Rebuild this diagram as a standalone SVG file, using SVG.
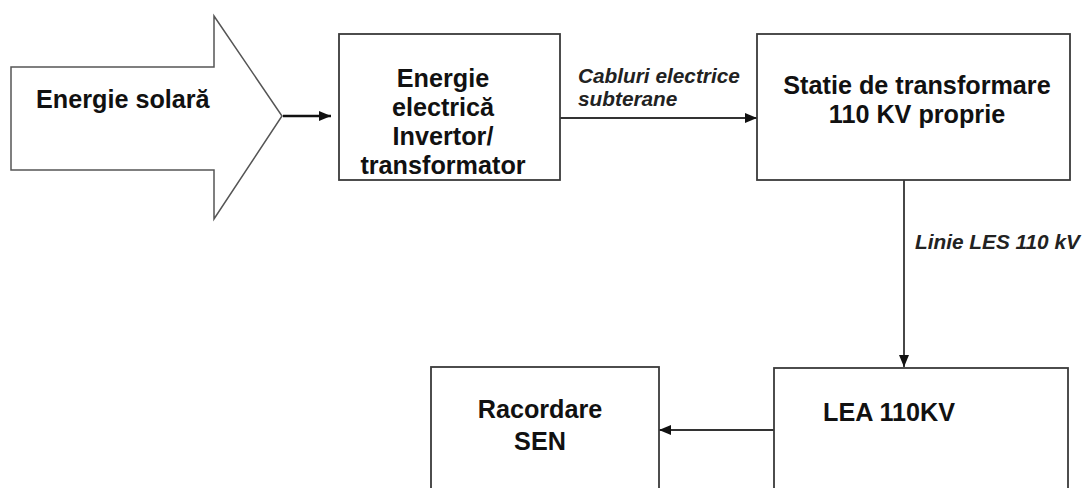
<svg xmlns="http://www.w3.org/2000/svg" width="1082" height="488" viewBox="0 0 1082 488">
<defs>
<style>
.box{fill:#fff;stroke:#3a3a3a;stroke-width:1.8}
.t{font-family:"Liberation Sans",Arial,sans-serif;font-weight:bold;font-size:25.2px;fill:#111}
.lbl{font-family:"Liberation Sans",Arial,sans-serif;font-weight:bold;font-style:italic;font-size:20.8px;fill:#222}
.ln{stroke:#333;stroke-width:1.8;fill:none}
</style>
<marker id="ah" viewBox="0 0 12 10" refX="12" refY="5" markerWidth="12" markerHeight="10" markerUnits="userSpaceOnUse" orient="auto">
<path d="M0,0 L12,5 L0,10 z" fill="#111"/>
</marker>
</defs>
<rect width="1082" height="488" fill="#fff"/>
<g id="connectors">
<line x1="283" y1="116" x2="331" y2="116" stroke="#111" stroke-width="2.6" marker-end="url(#ah)"/>
<line class="ln" x1="560" y1="118" x2="757" y2="118" marker-end="url(#ah)"/>
<text class="lbl" x="578" y="83">Cabluri electrice</text>
<text class="lbl" x="578" y="106">subterane</text>
<line class="ln" x1="904" y1="180" x2="904" y2="367" marker-end="url(#ah)"/>
<text class="lbl" x="915" y="249">Linie LES 110 kV</text>
<line class="ln" x1="774" y1="430" x2="659" y2="430" marker-end="url(#ah)"/>
</g>
<g id="solar">
<path d="M11,67 L214,67 L214,16 L282,116 L214,219 L214,170 L11,170 Z" fill="#fff" stroke="#555" stroke-width="1.5"/>
<text class="t" x="36" y="108">Energie solară</text>
</g>
<g id="invertor">
<rect class="box" x="339" y="34" width="221" height="146"/>
<text class="t" text-anchor="middle" x="443" y="87">Energie</text>
<text class="t" text-anchor="middle" x="443" y="116">electrică</text>
<text class="t" text-anchor="middle" x="443" y="145">Invertor/</text>
<text class="t" text-anchor="middle" x="443" y="174">transformator</text>
</g>
<g id="statie">
<rect class="box" x="757" y="34" width="313" height="146"/>
<text class="t" text-anchor="middle" x="917" y="94">Statie de transformare</text>
<text class="t" text-anchor="middle" x="917" y="123">110 KV proprie</text>
</g>
<g id="lea">
<rect class="box" x="774" y="368" width="294" height="140"/>
<text class="t" x="823" y="421">LEA 110KV</text>
</g>
<g id="racordare">
<rect class="box" x="431" y="367" width="228" height="140"/>
<text class="t" text-anchor="middle" x="540" y="418">Racordare</text>
<text class="t" text-anchor="middle" x="540" y="450">SEN</text>
</g>
</svg>
